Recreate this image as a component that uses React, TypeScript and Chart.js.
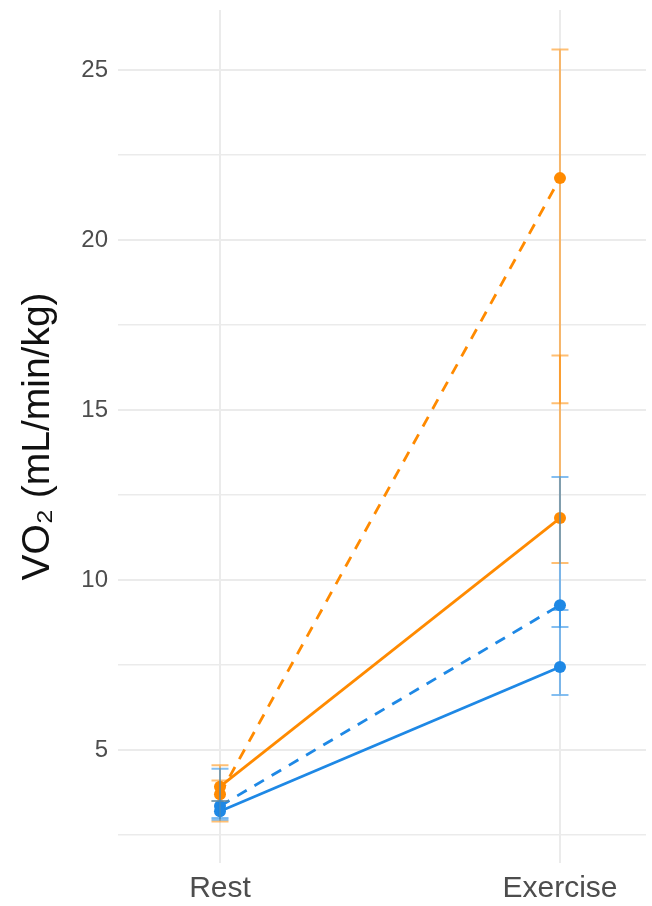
import React, { useEffect, useRef } from "react";
import { Chart, registerables } from "chart.js";

Chart.register(...registerables);

const conditions = ["Rest", "Exercise"];
const xPositions = [1, 2];

const orangeSolid = [3.92, 11.82];
const orangeSolidLow = [3.5, 10.5];
const orangeSolidHigh = [4.55, 16.6];

const orangeDashed = [3.7, 21.82];
const orangeDashedLow = [2.9, 15.2];
const orangeDashedHigh = [4.1, 25.6];

const blueSolid = [3.2, 7.44];
const blueSolidLow = [3.0, 6.62];
const blueSolidHigh = [3.5, 9.12];

const blueDashed = [3.35, 9.26];
const blueDashedLow = [2.95, 8.62];
const blueDashedHigh = [4.45, 13.03];

const yTickValues = [2.5, 5, 7.5, 10, 12.5, 15, 17.5, 20, 22.5, 25];
const yLabelValues = [5, 10, 15, 20, 25];

const ORANGE = "#FF8A00";
const BLUE = "#1E88E5";
const ORANGE_ERR = "rgba(255,138,0,0.55)";
const BLUE_ERR = "rgba(30,136,229,0.55)";

const errorSeries = [
  { low: orangeDashedLow, high: orangeDashedHigh, color: ORANGE_ERR },
  { low: orangeSolidLow, high: orangeSolidHigh, color: ORANGE_ERR },
  { low: blueDashedLow, high: blueDashedHigh, color: BLUE_ERR },
  { low: blueSolidLow, high: blueSolidHigh, color: BLUE_ERR },
];

const toPoints = (vals: number[]) => vals.map((v, i) => ({ x: xPositions[i], y: v }));

const errorBarPlugin = {
  id: "errorBars",
  afterDatasetsDraw(chart: any) {
    const { ctx, scales } = chart;
    const xs = scales.x;
    const ys = scales.y;
    ctx.save();
    ctx.lineWidth = 2;
    errorSeries.forEach((s) => {
      ctx.strokeStyle = s.color;
      xPositions.forEach((xv, i) => {
        const px = xs.getPixelForValue(xv);
        const pLow = ys.getPixelForValue(s.low[i]);
        const pHigh = ys.getPixelForValue(s.high[i]);
        const half = 8.5;
        ctx.beginPath();
        ctx.moveTo(px, pLow);
        ctx.lineTo(px, pHigh);
        ctx.moveTo(px - half, pLow);
        ctx.lineTo(px + half, pLow);
        ctx.moveTo(px - half, pHigh);
        ctx.lineTo(px + half, pHigh);
        ctx.stroke();
      });
    });
    ctx.restore();
  },
};

export default function App() {
  const ref = useRef<HTMLCanvasElement>(null);

  useEffect(() => {
    document.body.style.margin = "0";
    document.body.style.overflow = "hidden";
    if (!ref.current) return;
    const mk = (data: number[], color: string, dashed: boolean) => ({
      data: toPoints(data),
      borderColor: color,
      backgroundColor: color,
      borderWidth: 2.8,
      borderDash: dashed ? [11, 9] : [],
      pointRadius: 6,
      pointBorderWidth: 0,
      pointBackgroundColor: color,
      showLine: true,
      tension: 0,
    });
    const chart = new Chart(ref.current, {
      type: "line",
      data: {
        datasets: [
          mk(blueSolid, BLUE, false),
          mk(blueDashed, BLUE, true),
          mk(orangeSolid, ORANGE, false),
          mk(orangeDashed, ORANGE, true),
        ] as any,
      },
      options: {
        animation: false,
        responsive: false,
        devicePixelRatio: 1,
        layout: { padding: { top: 10, right: 0, left: 0, bottom: 0 } },
        plugins: { legend: { display: false }, tooltip: { enabled: false } },
        scales: {
          x: {
            type: "linear",
            min: 0.7,
            max: 2.253,
            afterBuildTicks: (axis: any) => {
              axis.ticks = xPositions.map((v) => ({ value: v }));
            },
            afterFit: (axis: any) => {
              axis.height = 43;
              axis.paddingLeft = 0;
              axis.paddingRight = 0;
            },
            ticks: {
              autoSkip: false,
              maxRotation: 0,
              padding: 8,
              color: "#4D4D4D",
              font: { family: "Liberation Sans, Arial, sans-serif", size: 30 },
              callback: (v: any) => {
                const idx = xPositions.indexOf(Number(v));
                return idx >= 0 ? conditions[idx] : "";
              },
            },
            grid: { color: "#EBEBEB", lineWidth: 2, drawTicks: false },
            border: { display: false },
          },
          y: {
            type: "linear",
            min: 1.676,
            max: 26.765,
            afterBuildTicks: (axis: any) => {
              axis.ticks = yTickValues.map((v) => ({ value: v }));
            },
            afterFit: (axis: any) => {
              axis.width = 118;
              axis.paddingTop = 0;
              axis.paddingBottom = 0;
            },
            ticks: {
              autoSkip: false,
              padding: 10,
              color: "#4D4D4D",
              font: { family: "Liberation Sans, Arial, sans-serif", size: 24 },
              callback: (v: any) => (yLabelValues.includes(Number(v)) ? String(v) : ""),
            },
            grid: {
              color: "#EBEBEB",
              lineWidth: (c: any) => (c.tick && yLabelValues.includes(c.tick.value) ? 2 : 1.5),
              drawTicks: false,
            },
            border: { display: false },
            title: {
              display: true,
              text: "VO₂ (mL/min/kg)",
              color: "#111111",
              padding: { top: 15, bottom: 0 },
              font: { family: "Liberation Sans, Arial, sans-serif", size: 39 },
            },
          },
        },
      } as any,
      plugins: [errorBarPlugin],
    });
    return () => chart.destroy();
  }, []);

  return (
    <div style={{ width: 652, height: 906 }}>
      <canvas ref={ref} width={652} height={906} />
    </div>
  );
}
